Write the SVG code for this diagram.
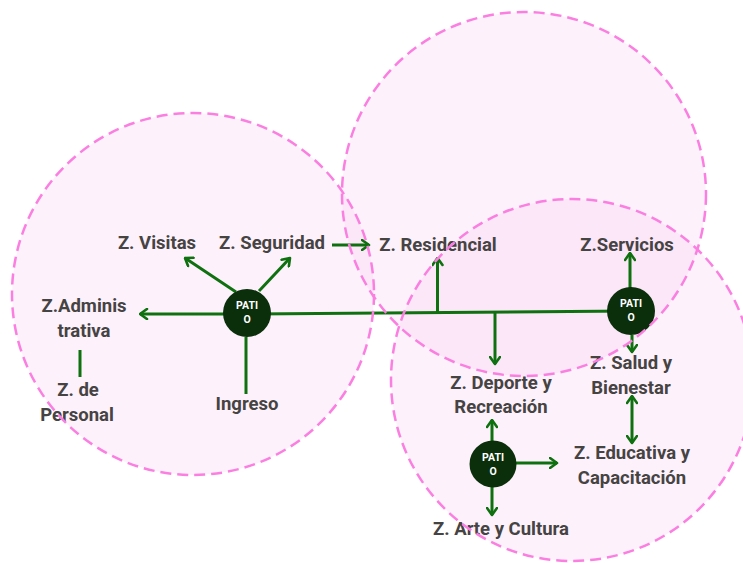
<svg xmlns="http://www.w3.org/2000/svg" width="743" height="563" viewBox="0 0 743 563">
<defs>
<marker id="ah" viewBox="0 0 10 12" refX="8.5" refY="6" markerWidth="10" markerHeight="12" markerUnits="userSpaceOnUse" orient="auto-start-reverse">
<path d="M1.5,1 L8.5,6 L1.5,11" fill="none" stroke="#0f700f" stroke-width="2.6" stroke-linecap="round" stroke-linejoin="round"/>
</marker>
<style>
.c{stroke:#0f700f;stroke-width:3;fill:none}
.a{marker-end:url(#ah)}
.b{marker-start:url(#ah);marker-end:url(#ah)}
.t{font-family:Roboto,"Liberation Sans",sans-serif;font-weight:700;font-size:18.5px;fill:#464343;text-anchor:middle}
.p{fill:#0b2e0b}
.pt{font-family:Roboto,"Liberation Sans",sans-serif;font-weight:700;font-size:10.5px;fill:#ffffff;text-anchor:middle}
.zf{fill:#f4a6e6;fill-opacity:0.15;stroke:none}
.zs{fill:none;stroke:#fb7fe0;stroke-width:2.5;stroke-dasharray:11 6}
</style>
</defs>
<rect width="743" height="563" fill="#ffffff"/>
<g id="zone-fills">
<circle class="zf" cx="193" cy="294" r="181"/>
<circle class="zf" cx="524" cy="194" r="182"/>
<circle class="zf" cx="572" cy="380" r="181"/>
</g>
<g id="connectors">
<path class="c" d="M247,314 L631,311"/>
<path class="c a" d="M224,314 L140,314"/>
<path class="c a" d="M236,292 L185,258"/>
<path class="c a" d="M259,291 L290,258"/>
<path class="c" d="M246,337 L246,394"/>
<path class="c" d="M80,350 L80,377"/>
<path class="c a" d="M332,245 L369,245"/>
<path class="c a" d="M437.5,313 L437.5,258"/>
<path class="c a" d="M495,313 L495,364"/>
<path class="c a" d="M630,289 L630,253"/>
<path class="c a" d="M632,335 L632,352"/>
<path class="c b" d="M632,396 L632,443"/>
<path class="c a" d="M492,442 L492,420"/>
<path class="c a" d="M516,463 L557,463"/>
<path class="c a" d="M492,487 L492,515"/>
</g>
<g id="patio1"><ellipse class="p" cx="247" cy="313" rx="24" ry="24"/><text class="pt" x="247" y="309">PATI</text><text class="pt" x="247" y="323">O</text></g>
<g id="patio2"><ellipse class="p" cx="631" cy="311" rx="24" ry="24"/><text class="pt" x="631" y="307">PATI</text><text class="pt" x="631" y="321">O</text></g>
<g id="patio3"><ellipse class="p" cx="493" cy="464" rx="23.5" ry="23.5"/><text class="pt" x="493" y="461">PATI</text><text class="pt" x="493" y="475">O</text></g>
<g id="visitas"><text class="t" x="157" y="249">Z. Visitas</text></g>
<g id="seguridad"><text class="t" x="272" y="249">Z. Seguridad</text></g>
<g id="residencial"><text class="t" x="438" y="251">Z. Residencial</text></g>
<g id="servicios"><text class="t" x="627" y="251">Z.Servicios</text></g>
<g id="administrativa"><text class="t" x="84" y="312">Z.Adminis</text><text class="t" x="84" y="337">trativa</text></g>
<g id="personal"><text class="t" x="78" y="396">Z. de</text><text class="t" x="77" y="421">Personal</text></g>
<g id="ingreso"><text class="t" x="247" y="410">Ingreso</text></g>
<g id="deporte"><text class="t" x="501" y="389">Z. Deporte y</text><text class="t" x="501" y="413">Recreación</text></g>
<g id="salud"><text class="t" x="631" y="369">Z. Salud y</text><text class="t" x="631" y="394">Bienestar</text></g>
<g id="educativa"><text class="t" x="632" y="459">Z. Educativa y</text><text class="t" x="632" y="484">Capacitación</text></g>
<g id="arte"><text class="t" x="501" y="535">Z. Arte y Cultura</text></g>
<g id="zone-outlines">
<circle class="zs" cx="193" cy="294" r="181"/>
<circle class="zs" cx="524" cy="194" r="182"/>
<circle class="zs" cx="572" cy="380" r="181"/>
</g>
</svg>
